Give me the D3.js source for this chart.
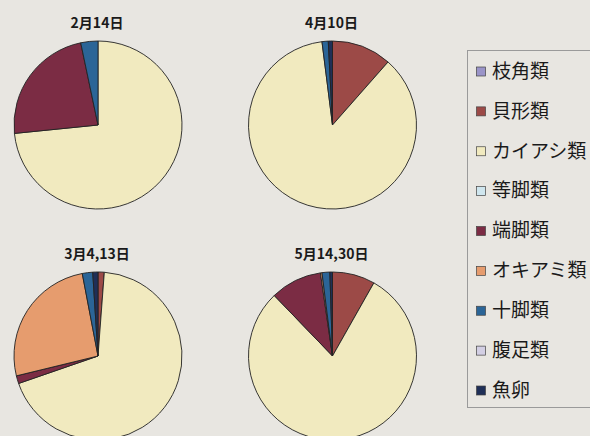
<!DOCTYPE html>
<html>
<head>
<meta charset="utf-8">
<script src="https://cdn.jsdelivr.net/npm/d3@7"></script>
<style>
    body { margin: 0; background: #e8e6e1; }
    svg { display: block; }
    text { font-family: "Noto Sans CJK JP", "Noto Sans", sans-serif; fill: #1a1a1a; }
</style>
</head>
<body>
<div id="chart"></div>
<script>
// categories (legend order = slice order, clockwise from 12 o'clock)
var categories = ["枝角類", "貝形類", "カイアシ類", "等脚類", "端脚類", "オキアミ類", "十脚類", "腹足類", "魚卵"];
var colors = ["#9a94c8", "#9c4a47", "#f1eabf", "#cfe6ee", "#7b2c44", "#e69c6e", "#2b6597", "#d3cfe4", "#1f2f57"];

// dates, one pie each (left-right, top-bottom)
var dates = ["2月14日", "4月10日", "3月4,13日", "5月14,30日"];

// % composition per date, in category order
var feb14   = [0, 0,    73.4, 0, 23.3, 0,    3.3, 0, 0];
var apr10   = [0, 11.5, 86.5, 0, 0,    0,    1.2, 0, 0.8];
var mar4_13 = [0, 1.2,  68.5, 0, 1.5,  25.8, 2.0, 0, 1.0];
var may14_30 = [0, 8.2, 79.6, 0, 9.9,  0.3,  1.5, 0, 0.5];

var series = [feb14, apr10, mar4_13, may14_30];

// size
var W = 590, H = 436;
var radius = 84;

var svg = d3.select("#chart").append("svg").attr("width", W).attr("height", H);

var color = d3.scaleOrdinal().domain(categories).range(colors);

// grid of pies
var colX = d3.scalePoint().domain([0, 1]).range([98, 332.5]);
var rowY = d3.scalePoint().domain([0, 1]).range([125, 356]);

var pie = d3.pie().sort(null).value(function (d) { return d.v; });
var arc = d3.arc().innerRadius(0).outerRadius(radius);

series.forEach(function (vals, i) {
    var data = categories.map(function (c, k) { return { cat: c, v: vals[k] }; });
    var cx = colX(i % 2), cy = rowY(Math.floor(i / 2));
    var g = svg.append("g").attr("transform", "translate(" + cx + "," + cy + ")");

    g.selectAll("path")
        .data(pie(data).filter(function (d) { return d.data.v > 0; }))
        .enter().append("path")
        .attr("d", arc)
        .attr("fill", function (d) { return color(d.data.cat); })
        .attr("stroke", "#222")
        .attr("stroke-width", 0.9)
        .attr("stroke-linejoin", "round");

    g.append("text")
        .attr("x", -1)
        .attr("y", -radius - 13)
        .attr("text-anchor", "middle")
        .attr("font-size", 14)
        .attr("font-weight", "bold")
        .text(dates[i]);
});

// legend
var legend = svg.append("g");
legend.append("rect")
    .attr("x", 467.5).attr("y", 50.5)
    .attr("width", 140).attr("height", 357)
    .attr("fill", "none")
    .attr("stroke", "#9a9a9a")
    .attr("stroke-width", 1);

var legY = d3.scalePoint().domain(categories).range([71, 390]);

var items = legend.selectAll(".item")
    .data(categories)
    .enter().append("g")
    .attr("class", "item")
    .attr("transform", function (d) { return "translate(476," + legY(d) + ")"; });

items.append("rect")
    .attr("x", 0.5).attr("y", -4)
    .attr("width", 9).attr("height", 9)
    .attr("fill", function (d) { return color(d); })
    .attr("stroke", "#444")
    .attr("stroke-width", 0.7);

items.append("text")
    .attr("x", 16)
    .attr("y", 0)
    .attr("dy", "0.36em")
    .attr("font-size", 19)
    .text(function (d) { return d; });
</script>
</body>
</html>
